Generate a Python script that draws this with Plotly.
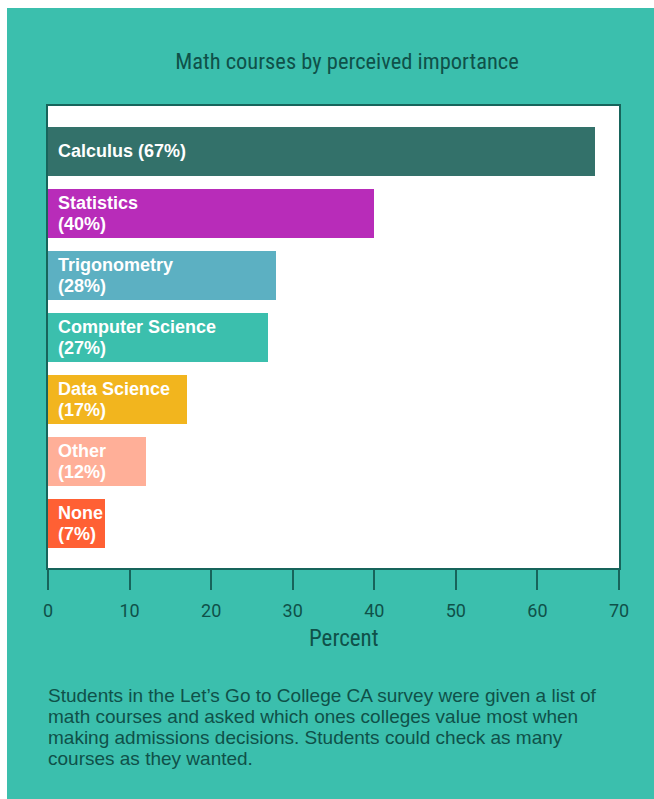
import plotly.graph_objects as go

# Survey results: share of students naming each math course
courses = ["Calculus", "Statistics", "Trigonometry", "Computer Science",
           "Data Science", "Other", "None"]
percents = [67, 40, 28, 27, 17, 12, 7]
bar_colors = ["#33716A", "#B82CB9", "#5CB0C2", "#3BBFAD",
              "#F2B51E", "#FFAF98", "#FF6034"]
tick_values = [0, 10, 20, 30, 40, 50, 60, 70]

title_text = "Math courses by perceived importance"
axis_title = "Percent"
note_lines = [
    "Students in the Let\u2019s Go to College CA survey were given a list of",
    "math courses and asked which ones colleges value most when",
    "making admissions decisions. Students could check as many",
    "courses as they wanted.",
]

TEAL = "#3BBFAD"
DARK = "#0F5149"
LINE = "#17645B"
COND = "Roboto Condensed, DejaVu Sans Condensed, Liberation Sans Narrow, Roboto, sans-serif"
ROBO = "Roboto, sans-serif"
SANS = "Liberation Sans, Arial, Helvetica, sans-serif"

W, H = 654, 799
ML, MR, MT, MB = 48, 35, 106, 231
PW, PH = W - ML - MR, H - MT - MB


def px_x(p):
    return (p - ML) / PW


def px_y(p):
    return (MT + PH - p) / PH


fig = go.Figure()
fig.add_trace(go.Bar(
    x=percents, y=courses, orientation="h",
    marker=dict(color=bar_colors, line=dict(width=0)),
    width=0.79, hoverinfo="skip", showlegend=False,
))

# Labels inside each bar, built from the same values
label_font = dict(family=SANS, size=18, color="white", weight="bold")
annotations = []
for i, (c, v) in enumerate(zip(courses, percents)):
    lines = [f"{c} ({v}%)"] if i == 0 else [c, f"({v}%)"]
    n = len(lines)
    for k, line in enumerate(lines):
        annotations.append(dict(
            x=0, y=c, xref="x", yref="y", text=line, showarrow=False,
            xanchor="left", yanchor="middle", align="left",
            xshift=8, yshift=(n - 1) * 10.5 - k * 21,
            font=label_font,
        ))

# Axis title
annotations.append(dict(
    x=px_x(344), y=px_y(638), xref="paper", yref="paper", text=axis_title,
    showarrow=False, xanchor="center", yanchor="middle",
    font=dict(family=COND, size=23, color=DARK),
))

# Explanatory note under the chart
for k, line in enumerate(note_lines):
    annotations.append(dict(
        x=px_x(46), y=px_y(695 + 21 * k), xref="paper", yref="paper",
        text=line, showarrow=False, xanchor="left", yanchor="middle",
        align="left", font=dict(family=SANS, size=19, color=DARK),
    ))

# White strips along the top and left edges of the page
shapes = [
    dict(type="rect", xref="paper", yref="paper", x0=px_x(0), x1=px_x(W),
         y0=px_y(8), y1=px_y(0), fillcolor="white", line=dict(width=0), layer="above"),
    dict(type="rect", xref="paper", yref="paper", x0=px_x(0), x1=px_x(7),
         y0=px_y(H), y1=px_y(0), fillcolor="white", line=dict(width=0), layer="above"),
]

fig.update_layout(
    width=W, height=H,
    margin=dict(l=ML, r=MR, t=MT, b=MB, pad=0),
    paper_bgcolor=TEAL, plot_bgcolor="white",
    title=dict(text=title_text, x=347 / W, xref="container", xanchor="center",
               y=1 - 61 / H, yref="container", yanchor="middle",
               font=dict(family=COND, size=22.5, color=DARK)),
    annotations=annotations, shapes=shapes,
    bargap=0,
)
fig.update_xaxes(
    range=[0, 70], tickvals=tick_values, ticks="outside", ticklen=20,
    tickwidth=1.5, tickcolor=LINE, showgrid=False, zeroline=False,
    showline=True, linecolor=LINE, linewidth=2, mirror=True,
    ticklabelstandoff=5,
    tickfont=dict(family=ROBO, size=18, color=DARK),
)
fig.update_yaxes(
    categoryorder="array", categoryarray=courses,
    range=[6.72, -0.73], showticklabels=False, ticks="",
    showgrid=False, zeroline=False,
    showline=True, linecolor=LINE, linewidth=2, mirror=True,
)

fig.write_html("out.html")
